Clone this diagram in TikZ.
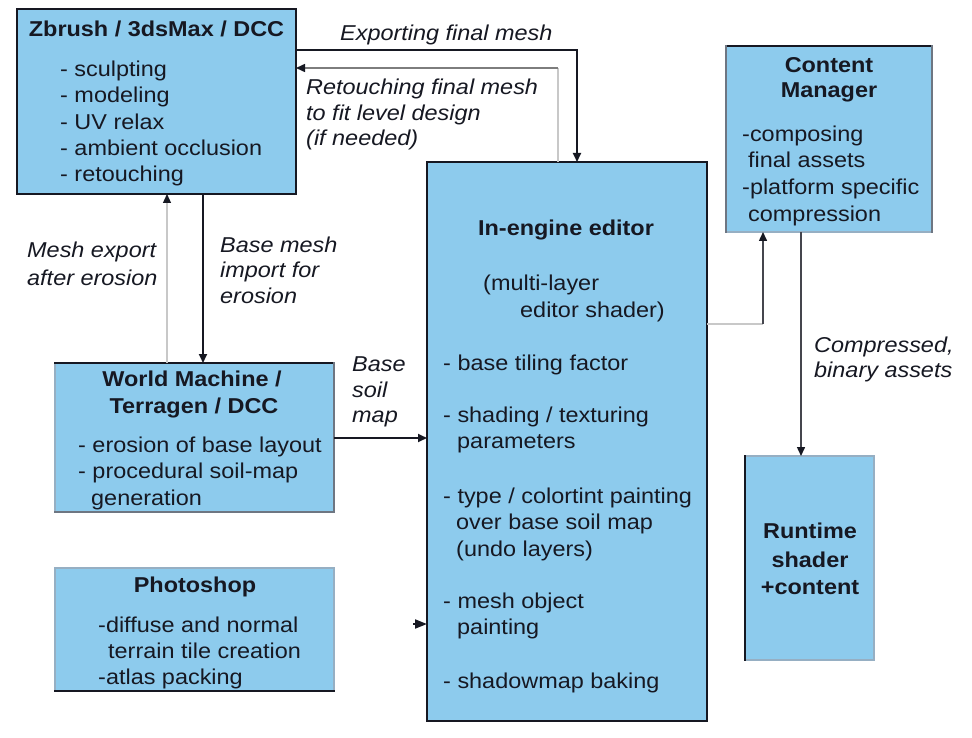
\documentclass[tikz,border=0pt]{standalone}
\usepackage{fontspec}
\setmainfont[FakeStretch=1.09]{Liberation Sans}
\usetikzlibrary{arrows.meta}
\definecolor{boxfill}{RGB}{141,203,237}
\definecolor{ink}{RGB}{22,24,34}
\definecolor{edgegray}{RGB}{110,118,130}
\definecolor{softedge}{RGB}{150,175,195}
\definecolor{lightline}{RGB}{200,200,200}
\definecolor{midline}{RGB}{125,125,125}
\tikzset{
  box/.style={draw=softedge, line width=1.5pt, fill=boxfill, inner sep=0pt, outer sep=0pt, anchor=north west},
  dark/.style={draw=ink, line width=2pt, line cap=rect},
  gedge/.style={draw=edgegray, line width=1.8pt, line cap=rect},
  txt/.style={inner sep=0pt, anchor=base west, text=ink, font=\fontsize{21.5}{26}\selectfont},
  ttl/.style={inner sep=0pt, anchor=base, text=ink, font=\fontsize{21.5}{26}\selectfont\bfseries},
  lbl/.style={inner sep=0pt, anchor=base west, text=ink, font=\fontsize{21.5}{26}\selectfont\itshape},
  tip/.style={-{Triangle[length=9pt,width=8pt,color=ink]}},
  arr/.style={tip, draw=ink, line width=1.8pt},
  grayarr/.style={tip, draw=midline, line width=1.5pt},
  faint/.style={draw=lightline, line width=1.2pt},
}
\begin{document}
\begin{tikzpicture}[x=1pt,y=-1pt]
\useasboundingbox[fill=white] (0,0) rectangle (972,738);

% boxes
\node[box, minimum width=279pt, minimum height=185pt] (zb) at (17,9) {};
\node[box, minimum width=206pt, minimum height=186pt] (cm) at (726,46) {};
\node[box, minimum width=280pt, minimum height=559pt] (ed) at (427,162) {};
\node[box, minimum width=279pt, minimum height=149pt] (wm) at (55,363) {};
\node[box, minimum width=279pt, minimum height=123pt] (ps) at (55,568) {};
\node[box, minimum width=129pt, minimum height=204pt] (rt) at (745,456) {};

% darker edges
\draw[dark] (zb.north west) rectangle (zb.south east);
\draw[dark] (ed.north west) rectangle (ed.south east);
\draw[dark] (cm.north west) -- (cm.north east);
\draw[gedge] (cm.north west) -- (cm.south west);
\draw[gedge] (cm.north east) -- (cm.south east);
\draw[dark] (wm.north west) -- (wm.north east);
\draw[gedge] (wm.south west) -- (wm.south east);
\draw[gedge] (wm.north east) -- (wm.south east);
\draw[dark] (ps.south west) -- (ps.south east);
\draw[dark] (rt.north west) -- (rt.south west);

% coordinates for bends
\coordinate (ex) at (577,50);
\coordinate (rc) at (558,68);
\coordinate (me) at (167,0);
\coordinate (bm) at (203,0);
\coordinate (bs) at (0,438);
\coordinate (pt) at (413,624);
\coordinate (ec) at (763,324);
\coordinate (ca) at (801,0);

% connectors
\draw[arr] (zb.east |- ex) -- (ex) -- (ed.north -| ex);
\draw[faint] (ed.north -| rc) -- (rc);
\draw[grayarr] (rc) -- (zb.east |- rc);
\draw[faint, tip] (wm.north -| me) -- (zb.south -| me);
\draw[arr] (zb.south -| bm) -- (wm.north -| bm);
\draw[arr] (wm.east |- bs) -- (ed.west |- bs);
\draw[arr, -{Triangle[length=12pt,width=9pt,color=ink]}] (pt) -- (ed.west |- pt);
\draw[faint] (ed.east |- ec) -- (ec);
\draw[grayarr, draw=ink!80] (ec) -- (cm.south -| ec);
\draw[grayarr, draw=ink!80] (cm.south -| ca) -- (rt.north -| ca);

% Zbrush box text
\node[ttl] (zbt) at (156.5,37) {Zbrush / 3dsMax / DCC};
\node[txt] (zb1) at (60,77) {- sculpting};
\node[txt] (zb2) at (60,103) {- modeling};
\node[txt] (zb3) at (60,130) {- UV relax};
\node[txt] (zb4) at (60,156) {- ambient occlusion};
\node[txt] (zb5) at (60,182) {- retouching};

% export / retouch labels
\node[lbl] (exl) at (340,41) {Exporting final mesh};
\node[lbl] (rl1) at (306,95) {Retouching final mesh};
\node[lbl] (rl2) at (306,120.5) {to fit level design};
\node[lbl] (rl3) at (306,146) {(if needed)};

% Content manager
\node[ttl] (cmt1) at (829,73) {Content};
\node[ttl] (cmt2) at (829,98) {Manager};
\node[txt] (cm1) at (742,142) {-composing};
\node[txt] (cm2) at (748,168) {final assets};
\node[txt] (cm3) at (742,195) {-platform specific};
\node[txt] (cm4) at (748,222) {compression};

% In-engine editor
\node[ttl] (edt) at (566,236) {In-engine editor};
\node[txt] (ed1) at (483,290) {(multi-layer};
\node[txt] (ed2) at (520,317) {editor shader)};
\node[txt] (ed3) at (443,370) {- base tiling factor};
\node[txt] (ed4) at (443,422) {- shading / texturing};
\node[txt] (ed5) at (457,448) {parameters};
\node[txt] (ed6) at (443,503) {- type / colortint painting};
\node[txt] (ed7) at (456,529) {over base soil map};
\node[txt] (ed8) at (456,556) {(undo layers)};
\node[txt] (ed9) at (443,608) {- mesh object};
\node[txt] (ed10) at (457,634) {painting};
\node[txt] (ed11) at (443,688) {- shadowmap baking};

% mesh labels
\node[lbl] (mel1) at (27,258) {Mesh export};
\node[lbl] (mel2) at (27,285) {after erosion};
\node[lbl] (bml1) at (220,252) {Base mesh};
\node[lbl] (bml2) at (220,277) {import for};
\node[lbl] (bml3) at (220,303) {erosion};

% World Machine
\node[ttl] (wmt1) at (192,386) {World Machine /};
\node[ttl] (wmt2) at (194,413) {Terragen / DCC};
\node[txt] (wm1) at (78,452) {- erosion of base layout};
\node[txt] (wm2) at (78,478) {- procedural soil-map};
\node[txt] (wm3) at (91,505) {generation};

% Base soil map label
\node[lbl] (bsl1) at (352,371) {Base};
\node[lbl] (bsl2) at (352,397) {soil};
\node[lbl] (bsl3) at (352,422) {map};

% Photoshop
\node[ttl] (pst) at (195,592) {Photoshop};
\node[txt] (ps1) at (98,632) {-diffuse and normal};
\node[txt] (ps2) at (108,658) {terrain tile creation};
\node[txt] (ps3) at (98,684) {-atlas packing};

% Runtime
\node[ttl] (rt1) at (810,538) {Runtime};
\node[ttl] (rt2) at (810,567) {shader};
\node[ttl] (rt3) at (810,594) {+content};

% Compressed label
\node[lbl] (cl1) at (814,352) {Compressed,};
\node[lbl] (cl2) at (814,377) {binary assets};
\end{tikzpicture}
\end{document}
